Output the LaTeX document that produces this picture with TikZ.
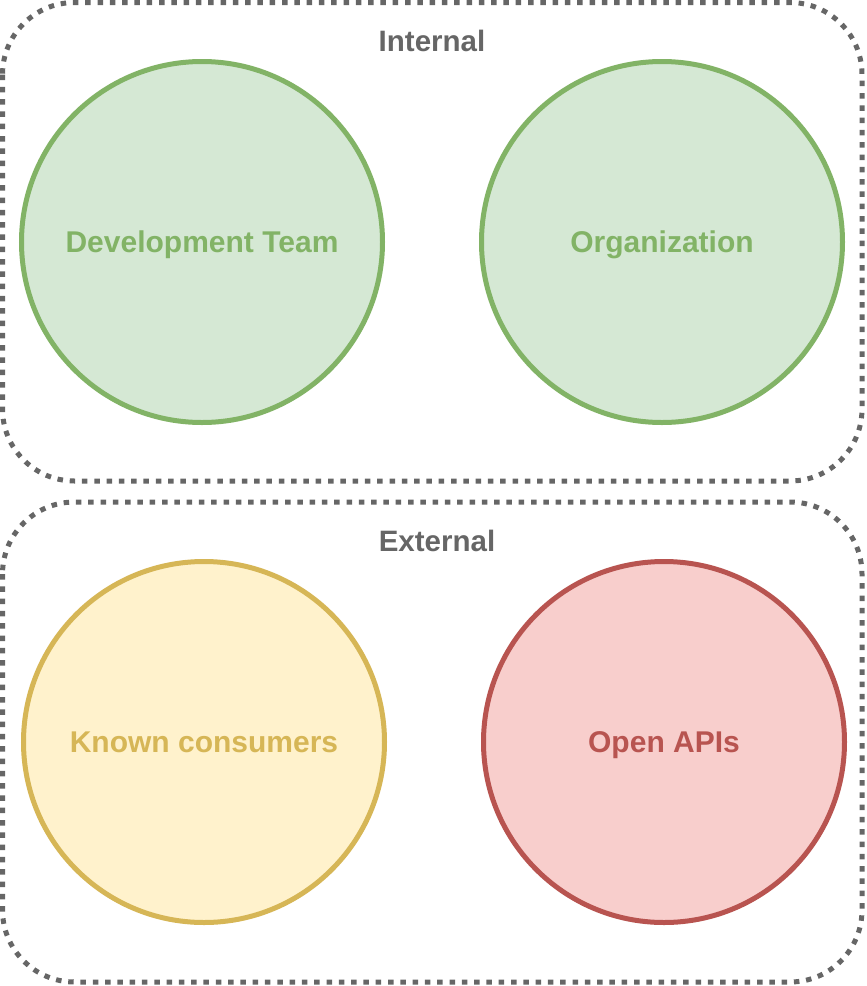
\documentclass[tikz,border=0pt]{standalone}
\usepackage{fontspec}
\setmainfont{Liberation Sans}
\begin{document}
\begin{tikzpicture}[x=1pt,y=-1pt,
  groupbox/.style={draw=gray40, line width=5pt, dash pattern=on 5.5pt off 6.8pt, rounded corners=72pt},
  grouplabel/.style={text=gray40, font=\fontsize{29.5}{34}\selectfont\bfseries,
                     inner sep=0pt, text height=21.2pt, text depth=0pt},
  bubble/.style={circle, minimum size=361pt, inner sep=0pt, line width=5pt,
                 font=\fontsize{30}{34}\selectfont\bfseries, text height=21.6pt, text depth=0pt},
  greenbubble/.style={bubble, draw=greenline, fill=greenfill, text=greenline},
  yellowbubble/.style={bubble, draw=yellowline, fill=yellowfill, text=yellowline},
  redbubble/.style={bubble, draw=redline, fill=redfill, text=redline}]
\definecolor{gray40}{HTML}{666666}
\definecolor{greenline}{HTML}{82B366}
\definecolor{greenfill}{HTML}{D5E8D4}
\definecolor{yellowline}{HTML}{D6B656}
\definecolor{yellowfill}{HTML}{FFF2CC}
\definecolor{redline}{HTML}{B85450}
\definecolor{redfill}{HTML}{F8CECC}
\useasboundingbox (0,0) rectangle (867,986);

% group frames
\draw[groupbox] (2.5,2.5) rectangle (862,481);
\draw[groupbox] (2.5,502) rectangle (862,982);
\node[grouplabel] (internal) at (432,41) {Internal};
\node[grouplabel] (external) at (437,541) {External};

% stakeholder circles
\node[greenbubble] (devteam) at (202,242) {Development Team};
\node[greenbubble] (org) at (662,242) {Organization};
\node[yellowbubble] (known) at (204,742) {Known consumers};
\node[redbubble] (open) at (664,742) {Open APIs};
\end{tikzpicture}
\end{document}
